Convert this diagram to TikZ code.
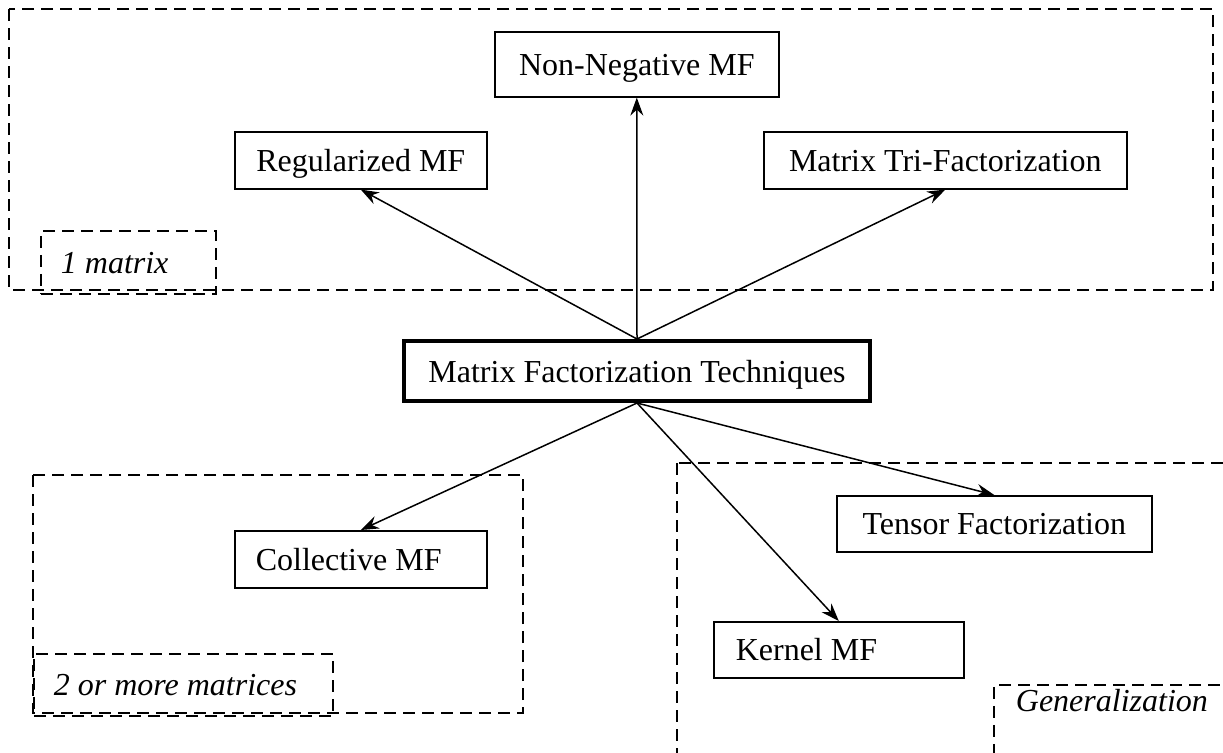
\documentclass[tikz,border=0pt]{standalone}
\usepackage{fontspec}
\setmainfont{Liberation Serif}
\usetikzlibrary{arrows.meta}

\begin{document}
\begin{tikzpicture}[x=0.5pt, y=-0.5pt,
        >={Stealth[length=9pt, width=6.5pt, inset=3pt]},
        mfbox/.style={draw, line width=0.8pt, anchor=north west, inner sep=0pt,
            text height=11pt, text depth=0pt, font=\fontsize{16}{19}\selectfont},
        groupbox/.style={draw, line width=0.9pt, dash pattern=on 6pt off 3.5pt},
        grouplabel/.style={groupbox, anchor=north west, align=flush left, inner xsep=10pt,
            inner ysep=0pt, text height=11pt, text depth=0pt,
            font=\fontsize{16}{19}\selectfont\itshape},
        link/.style={->, line width=0.75pt}]
        \clip (0,0) rectangle (1223,752);

        % 1 matrix
        \draw[groupbox] (9,9) rectangle (1213,290);
        \node[grouplabel, text width=67.5pt, minimum height=31.5pt] (labone) at (40,230) {1 matrix};
        \node[mfbox, minimum width=142pt, minimum height=32.5pt] (nnmf) at (494,31) {Non-Negative MF};
        \node[mfbox, minimum width=126pt, minimum height=28.5pt] (reg) at (234,131) {Regularized MF};
        \node[mfbox, minimum width=181.5pt, minimum height=28.5pt] (tri) at (763,131) {Matrix Tri-Factorization};

        % 2 or more matrices
        \draw[groupbox] (33,475) rectangle (523,713);
        \node[grouplabel, text width=129.5pt, minimum height=31pt] (labtwo) at (33,653) {2 or more matrices};
        \node[mfbox, align=flush left, inner xsep=10.5pt, text width=105pt, minimum height=28.5pt] (coll) at (234,530) {Collective MF};

        % Generalization
        \draw[groupbox] (677,463) rectangle (1250,790);
        \node[grouplabel, inner xsep=11pt, inner ysep=2.5pt, text width=130pt, text depth=40pt] (labgen) at (993,684) {Generalization};
        \node[mfbox, minimum width=157.5pt, minimum height=28pt] (tens) at (836,495) {Tensor Factorization};
        \node[mfbox, align=flush left, inner xsep=11pt, text width=103pt, minimum height=28pt] (kern) at (713,621) {Kernel MF};

        % Center
        \node[mfbox, line width=2pt, minimum width=233pt, minimum height=30pt] (main) at (402,339) {Matrix Factorization Techniques};

        % Arrows
        \draw[link] (main.north) -- (nnmf.south);
        \draw[link] (main.north) -- (reg.south);
        \draw[link] (main.north) -- (tri.south);
        \draw[link] (main.south) -- (coll.north);
        \draw[link] (main.south) -- (kern.north);
        \draw[link] (main.south) -- (tens.north);
    \end{tikzpicture}
\end{document}
